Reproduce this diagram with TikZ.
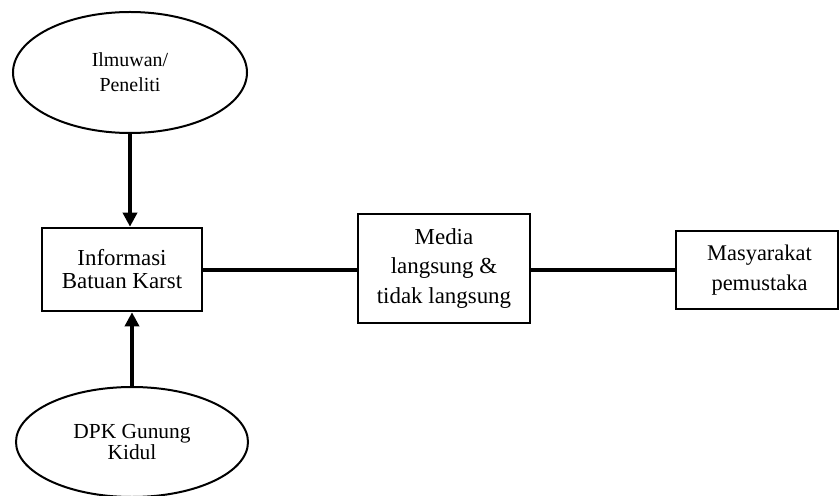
\documentclass[tikz,border=0pt]{standalone}
\usepackage{fontspec}
\setmainfont{Liberation Serif}
\usetikzlibrary{shapes.geometric,arrows.meta}
\begin{document}
\begin{tikzpicture}[x=1bp,y=-1bp,
  oval/.style={ellipse,draw,line width=2bp,inner sep=0pt,align=center},
  blok/.style={rectangle,draw,line width=2.6bp,inner sep=0pt,align=center},
  panah/.style={line width=3.4bp,-{Triangle[width=14bp,length=14bp]}},
  garis/.style={line width=3.4bp}]
\useasboundingbox (0,0) rectangle (839,496);
\node[oval,minimum width=234bp,minimum height=121bp,font=\fontsize{20}{25}\selectfont] (e1) at (130,72.5) {Ilmuwan/\\Peneliti};
\node[blok,minimum width=160bp,minimum height=83bp,font=\fontsize{23}{23}\selectfont] (b1) at (122,269.5) {Informasi\\Batuan Karst};
\node[blok,minimum width=172bp,minimum height=109bp,font=\fontsize{23}{30}\selectfont] (m) at (444,268.5) {Media\\langsung \&\\tidak langsung};
\node[blok,minimum width=162bp,minimum height=78bp,font=\fontsize{22.5}{30}\selectfont] (s) at (757,270) {\hspace*{5bp}Masyarakat\\\hspace*{5bp}pemustaka};
\node[oval,minimum width=232bp,minimum height=110bp,font=\fontsize{21.5}{22}\selectfont] (e2) at (132,442) {DPK Gunung\\Kidul};
\draw[panah] (e1.south) -- (e1.south |- b1.north);
\draw[panah] (e2.north) -- (e2.north |- b1.south);
\coordinate (y0) at (0,270);
\draw[garis] (b1.east |- y0) -- (m.west |- y0);
\draw[garis] (m.east |- y0) -- (s.west |- y0);
\end{tikzpicture}
\end{document}
